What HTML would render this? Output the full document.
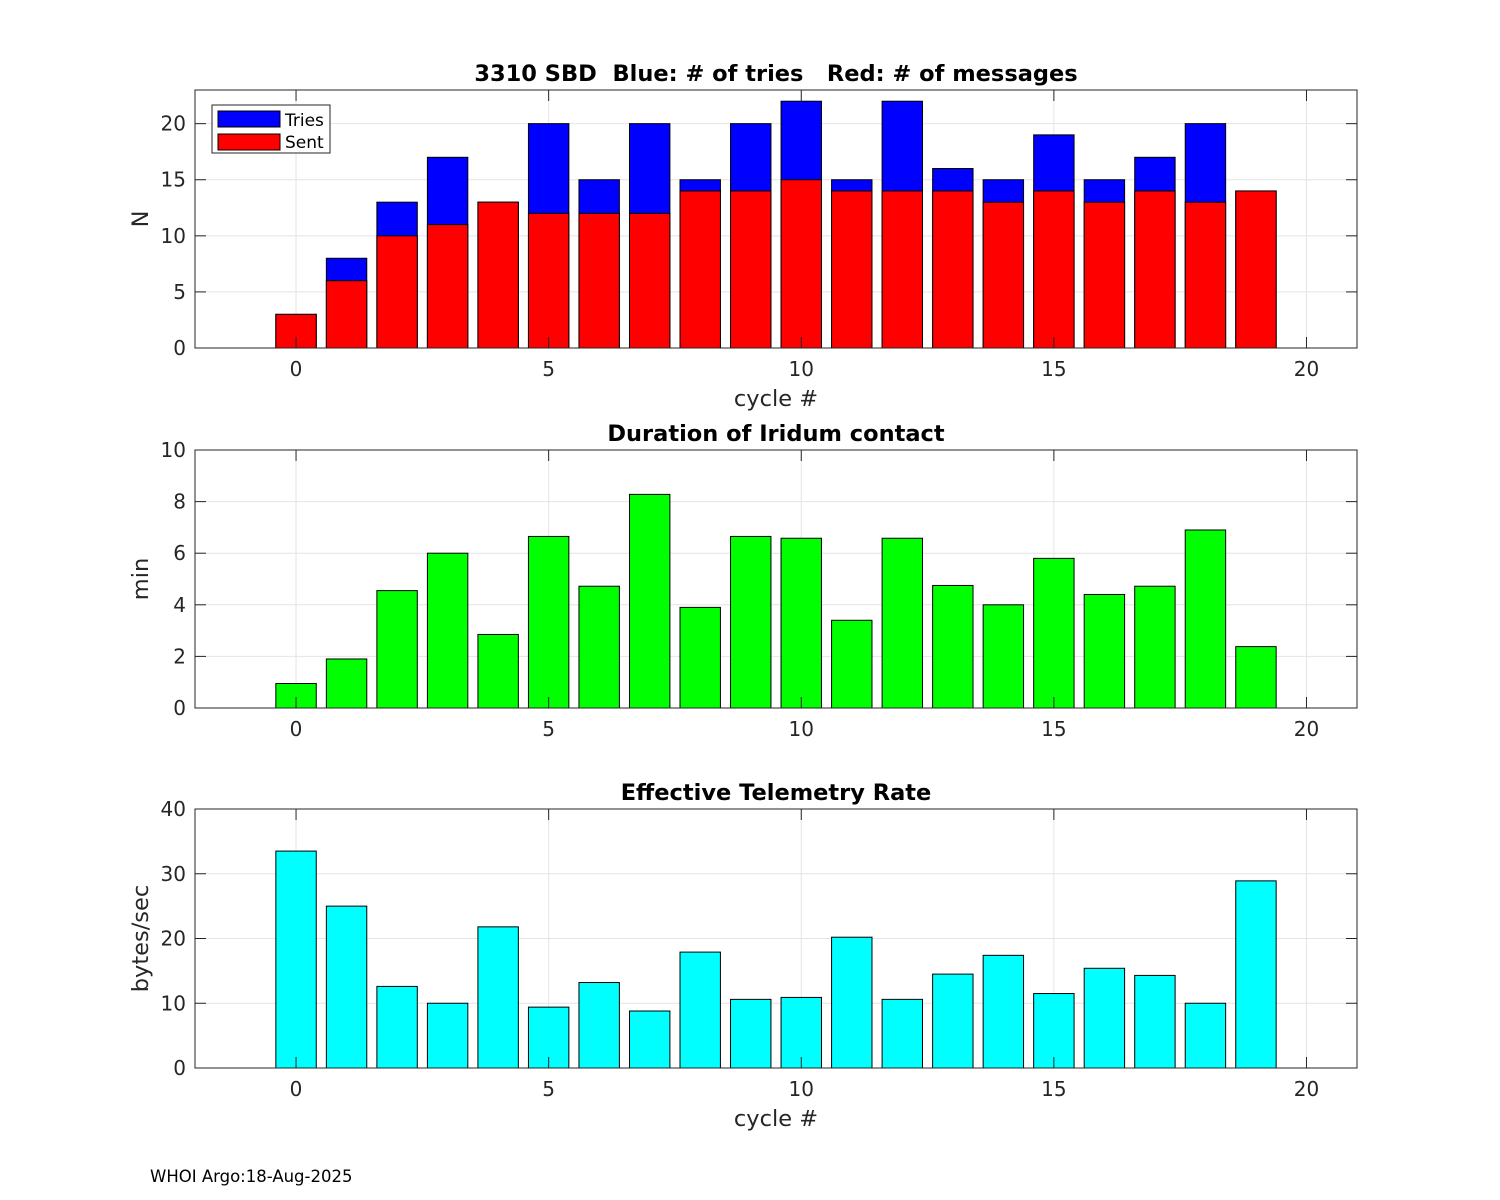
<!DOCTYPE html>
<html><head><meta charset="utf-8"><style>
html,body{margin:0;padding:0;background:#fff;}
svg{display:block;font-family:"DejaVu Sans","Liberation Sans",sans-serif;}
text{white-space:pre;}
</style></head><body>
<svg id="fig" width="1500" height="1200" viewBox="0 0 1500 1200"></svg>
<script>
const cycles=[0,1,2,3,4,5,6,7,8,9,10,11,12,13,14,15,16,17,18,19];
const tries=[3,8,13,17,13,20,15,20,15,20,22,15,22,16,15,19,15,17,20,14];
const sent=[3,6,10,11,13,12,12,12,14,14,15,14,14,14,13,14,13,14,13,14];
const duration=[0.95,1.9,4.55,6.0,2.85,6.65,4.72,8.28,3.9,6.65,6.58,3.4,6.58,4.75,4.0,5.8,4.4,4.72,6.9,2.38];
const rate=[33.5,25,12.6,10,21.8,9.4,13.2,8.8,17.9,10.6,10.9,20.2,10.6,14.5,17.4,11.5,15.4,14.3,10,28.9];
const xTicks=[0,5,10,15,20];
const yTicks1=[0,5,10,15,20];
const yTicks2=[0,2,4,6,8,10];
const yTicks3=[0,10,20,30,40];

const NS="http://www.w3.org/2000/svg";
const svg=document.getElementById('fig');
function el(tag,attrs,parent,text){const e=document.createElementNS(NS,tag);for(const k in attrs)e.setAttribute(k,attrs[k]);if(text!==undefined)e.textContent=text;(parent||svg).appendChild(e);return e;}
const L=195,R=1357,XMIN=-2,XMAX=21;
function xs(v){return L+(v-XMIN)/(XMAX-XMIN)*(R-L);}

function panel(name,top,bot,ymax,yt,title,ylabel,xlabel,series){
  const g=el('g',{},svg);
  
  
  const ys=v=>bot-v/ymax*(bot-top);
  el('rect',{x:L,y:top,width:R-L,height:bot-top,fill:'#fff'},g);
  xTicks.forEach(t=>{const l=el('line',{x1:xs(t),x2:xs(t),y1:top,y2:bot,stroke:'#e4e4e4','stroke-width':1},g);});
  yt.forEach(t=>{const l=el('line',{x1:L,x2:R,y1:ys(t),y2:ys(t),stroke:'#e4e4e4','stroke-width':1},g);});
  series.forEach(s=>{
    s.vals.forEach((v,i)=>{
      const x0=xs(cycles[i]-0.4),x1=xs(cycles[i]+0.4);
      const r=el('rect',{x:x0,y:ys(v),width:x1-x0,height:bot-ys(v),fill:s.color,stroke:'#000','stroke-width':1},g);
      
      
    });
  });
  el('rect',{x:L,y:top,width:R-L,height:bot-top,fill:'none',stroke:'#262626','stroke-width':1},g);
  xTicks.forEach(t=>{
    el('line',{x1:xs(t),x2:xs(t),y1:bot,y2:bot-11,stroke:'#262626'},g);
    el('line',{x1:xs(t),x2:xs(t),y1:top,y2:top+11,stroke:'#262626'},g);
    const tx=el('text',{x:xs(t),y:bot+28,'text-anchor':'middle','font-size':20,fill:'#262626'},g,String(t));
    
  });
  yt.forEach(t=>{
    el('line',{x1:L,x2:L+11,y1:ys(t),y2:ys(t),stroke:'#262626'},g);
    el('line',{x1:R,x2:R-11,y1:ys(t),y2:ys(t),stroke:'#262626'},g);
    const tx=el('text',{x:L-9,y:ys(t)+7,'text-anchor':'end','font-size':20,fill:'#262626'},g,String(t));
    
  });
  const tt=el('text',{x:(L+R)/2,y:top-9,'text-anchor':'middle','font-size':22.5,'font-weight':'bold',fill:'#000'},g,title);
  tt.setAttribute('xml:space','preserve');
  
  const cy=(top+bot)/2;
  const yl=el('text',{x:148,y:cy,'text-anchor':'middle','font-size':22.5,fill:'#262626',transform:'rotate(-90 148 '+cy+')'},g,ylabel);
  
  if(xlabel){const xl=el('text',{x:(L+R)/2,y:bot+58,'text-anchor':'middle','font-size':22.5,fill:'#262626'},g,xlabel);
    }
  return g;
}
panel('tries-panel',90,348,23,yTicks1,'3310 SBD  Blue: # of tries   Red: # of messages','N','cycle #',[{name:'tries',vals:tries,color:'#0000ff'},{name:'sent',vals:sent,color:'#ff0000'}]);
panel('duration-panel',450,708,10,yTicks2,'Duration of Iridum contact','min',null,[{name:'duration',vals:duration,color:'#00ff00'}]);
panel('rate-panel',809,1068,40,yTicks3,'Effective Telemetry Rate','bytes/sec','cycle #',[{name:'rate',vals:rate,color:'#00ffff'}]);

const lg=el('g',{},svg);


el('rect',{x:212,y:105,width:118,height:48,fill:'#fff',stroke:'#262626'},lg);
el('rect',{x:218,y:111,width:62,height:16,fill:'#0000ff',stroke:'#000'},lg);
el('text',{x:285,y:126,'font-size':17,fill:'#000'},lg,'Tries');
el('rect',{x:218,y:134,width:62,height:16,fill:'#ff0000',stroke:'#000'},lg);
el('text',{x:285,y:148,'font-size':17,fill:'#000'},lg,'Sent');
const ft=el('text',{x:150,y:1182,'font-size':16.5,fill:'#000'},svg,'WHOI Argo:18-Aug-2025');


</script>
</body></html>
